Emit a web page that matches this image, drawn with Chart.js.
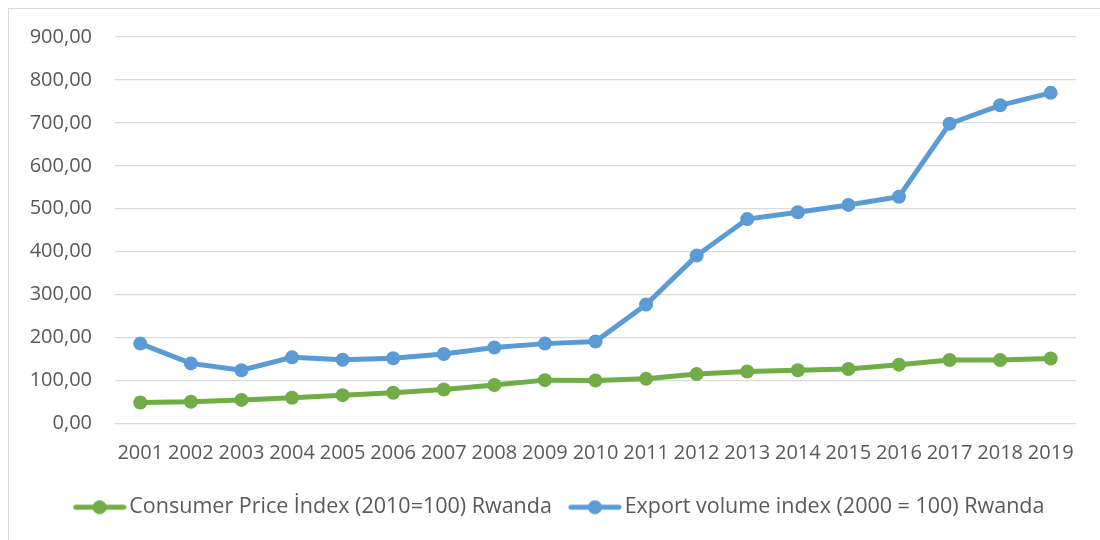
<!DOCTYPE html>
<html>
<head>
<meta charset="utf-8">
<script src="https://cdn.jsdelivr.net/npm/chart.js@4.4.1/dist/chart.umd.min.js"></script>
<style>
  html, body { margin: 0; padding: 0; background: #fff; }
  .frame {
    position: absolute; left: 8px; top: 8px;
    width: 1100px; height: 540px;
    border: 1px solid #d9d9d9; box-sizing: border-box;
  }
  .wrap { position: absolute; left: 0; top: 0; width: 1091px; height: 531px; }
</style>
</head>
<body>
<div class="frame"><div class="wrap"><canvas id="chart"></canvas></div></div>
<script>
const years = ["2001","2002","2003","2004","2005","2006","2007","2008","2009","2010",
  "2011","2012","2013","2014","2015","2016","2017","2018","2019"];
const cpiValues = [49, 50.5, 55, 60, 66, 71.5, 79, 89.5, 101, 100,
  104, 115, 121, 124, 127, 137, 148, 148, 151.5];
const exportValues = [186, 140, 124, 154, 148.5, 152, 162, 177, 186, 191,
  277, 391, 476, 492, 509, 528, 698, 741, 770];
const yTicks = [0, 100, 200, 300, 400, 500, 600, 700, 800, 900];

const GREEN = "#70ad47";
const BLUE = "#5b9bd5";
const FONT = "'Open Sans', sans-serif";

// legend marker: short line with a dot in the middle
function legendMarker(color) {
  const c = document.createElement("canvas");
  c.width = 54;
  c.height = 16;
  const ctx = c.getContext("2d");
  ctx.strokeStyle = color;
  ctx.lineWidth = 5;
  ctx.lineCap = "round";
  ctx.beginPath();
  ctx.moveTo(3, 8);
  ctx.lineTo(51, 8);
  ctx.stroke();
  ctx.fillStyle = color;
  ctx.beginPath();
  ctx.arc(27, 8, 7, 0, Math.PI * 2);
  ctx.fill();
  return c;
}

const fmt = v => v.toFixed(2).replace(".", ",");

new Chart(document.getElementById("chart"), {
  type: "line",
  data: {
    labels: years,
    datasets: [
      {
        label: "Consumer Price İndex (2010=100) Rwanda",
        data: cpiValues,
        borderColor: GREEN,
        backgroundColor: GREEN,
        borderWidth: 5,
        pointRadius: 7,
        pointBorderWidth: 0,
        tension: 0,
      },
      {
        label: "Export volume index (2000 = 100) Rwanda",
        data: exportValues,
        borderColor: BLUE,
        backgroundColor: BLUE,
        borderWidth: 5,
        pointRadius: 7,
        pointBorderWidth: 0,
        tension: 0,
      },
    ],
  },
  options: {
    responsive: true,
    maintainAspectRatio: false,
    animation: false,
    layout: {
      padding: { left: 16, right: 0, top: 28, bottom: 12 },
    },
    plugins: {
      tooltip: { enabled: false },
      legend: {
        position: "bottom",
        labels: {
          usePointStyle: true,
          pointStyleWidth: 38,
          color: "#595959",
          font: { family: FONT, size: 21.5 },
          padding: 24,
          generateLabels: chart => chart.data.datasets.map((ds, i) => ({
            text: ds.label,
            fillStyle: ds.borderColor,
            strokeStyle: ds.borderColor,
            fontColor: "#595959",
            lineWidth: 0,
            pointStyle: legendMarker(ds.borderColor),
            datasetIndex: i,
            hidden: false,
          })),
        },
      },
    },
    scales: {
      x: {
        offset: true,
        grid: { display: false, drawTicks: false },
        border: { display: false },
        ticks: {
          autoSkip: false,
          maxRotation: 0,
          minRotation: 0,
          padding: 18,
          color: "#595959",
          font: { family: FONT, size: 20 },
        },
        afterFit: s => { s.height = 49; },
      },
      y: {
        min: 0,
        max: 900,
        afterBuildTicks: s => { s.ticks = yTicks.map(v => ({ value: v })); },
        grid: { color: "#d9d9d9", lineWidth: 1.3, drawTicks: false },
        border: { display: false },
        ticks: {
          padding: 23,
          color: "#595959",
          font: { family: FONT, size: 20 },
          callback: v => fmt(v),
        },
        afterFit: s => { s.width = 90; s.paddingTop = 0; s.paddingBottom = 0; },
      },
      // empty right margin, keeps the plot edge where the reference has it
      yRight: {
        position: "right",
        min: 0,
        max: 900,
        grid: { display: false, drawTicks: false },
        border: { display: false },
        ticks: { display: false },
        afterFit: s => { s.width = 24; s.paddingTop = 0; s.paddingBottom = 0; },
      },
    },
  },
});
</script>
</body>
</html>
